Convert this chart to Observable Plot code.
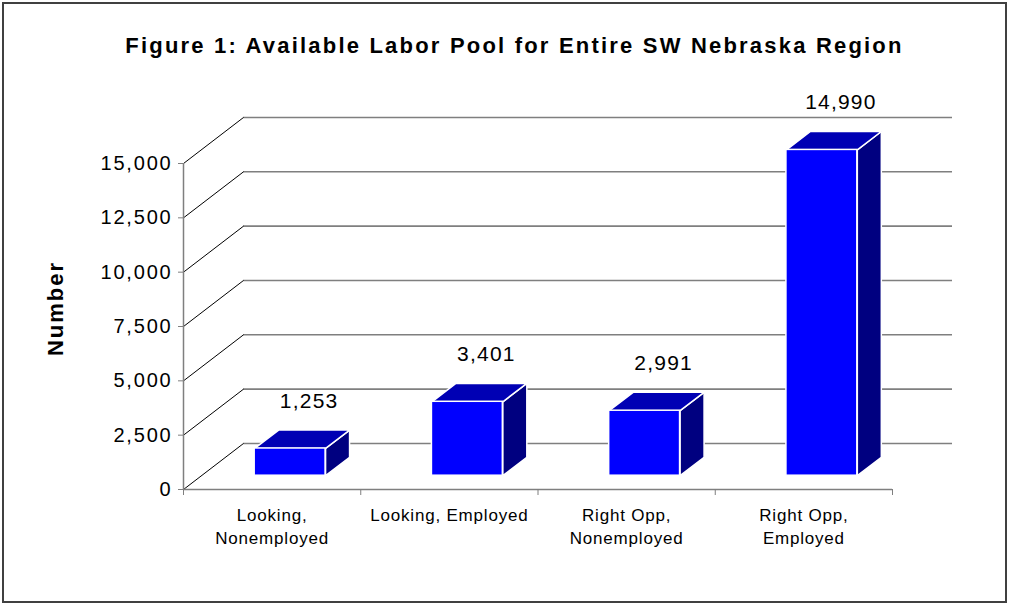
<!DOCTYPE html>
<html>
<head>
<meta charset="utf-8">
<script src="https://cdn.jsdelivr.net/npm/d3@7"></script>
<script src="https://cdn.jsdelivr.net/npm/@observablehq/plot@0.6"></script>
<style>
  body { margin: 0; background: #fff; }
  #wrap { position: relative; width: 1010px; height: 605px; overflow: hidden; }
  #border { position: absolute; left: 2px; top: 2px; width: 1005px; height: 601px; border: 2px solid #404040; box-sizing: border-box; pointer-events: none; }
  svg { font-family: "Liberation Sans", Arial, sans-serif; }
</style>
</head>
<body>
<div id="wrap"><div id="border"></div></div>
<script>
// ---- data ----
const title = "Figure 1: Available Labor Pool for Entire SW Nebraska Region";
const yLabel = "Number";
const categories = ["Looking,\nNonemployed", "Looking, Employed", "Right Opp,\nNonemployed", "Right Opp,\nEmployed"];
const values = [1253, 3401, 2991, 14990];
const yTicks = [0, 2500, 5000, 7500, 10000, 12500, 15000];

// ---- 3D projection parameters (in scale units) ----
const depthX = 0.3385;   // depth of the floor in band units
const depthY = 2117;     // depth of the floor in value units
const d0 = 0.3, d1 = 0.7; // bar front / back depth fraction
const barW = 0.4;        // bar width in band units

const fmt = d3.format(",");
const bars = values.map((v, i) => ({i, v, cat: categories[i]}));

function pt(x, y) { return {x, y}; }
const sides = [], tops = [];
bars.forEach(b => {
  const x1 = b.i + 0.5 - barW / 2 + d0 * depthX;
  const x2 = x1 + barW;
  const ox = (d1 - d0) * depthX, oy = (d1 - d0) * depthY;
  const yb = d0 * depthY, yt = b.v + d0 * depthY;
  [pt(x2, yb), pt(x2, yt), pt(x2 + ox, yt + oy), pt(x2 + ox, yb + oy), pt(x2, yb)]
    .forEach(p => sides.push({...p, id: b.i}));
  [pt(x1, yt), pt(x2, yt), pt(x2 + ox, yt + oy), pt(x1 + ox, yt + oy), pt(x1, yt)]
    .forEach(p => tops.push({...p, id: b.i}));
});

const chart = Plot.plot({
  width: 1010,
  height: 605,
  marginLeft: 183,
  marginRight: 118,
  marginTop: 163,
  marginBottom: 116,
  x: {domain: [0, 4], axis: null},
  y: {domain: [0, 15000], axis: null},
  style: {background: "transparent", color: "black"},
  marks: [
    // back wall gridlines
    Plot.ruleY(yTicks, {y: d => d + depthY, x1: depthX, x2: 4 + depthX, stroke: "#7f7f7f", strokeWidth: 1.6}),
    // side wall diagonals
    Plot.link(yTicks, {x1: 0, y1: d => d, x2: depthX, y2: d => d + depthY, stroke: "black", strokeWidth: 1}),
    // axes lines
    Plot.ruleX([0], {y1: 0, y2: 15000, stroke: "#7f7f7f", strokeWidth: 1.5}),
    Plot.ruleY([0], {x1: 0, x2: 4, stroke: "#7f7f7f", strokeWidth: 1.5}),
    Plot.axisY({ticks: yTicks, tickFormat: fmt, tickSize: 5, tickPadding: 6, fontSize: 20, stroke: "#7f7f7f", fill: "black", label: null}),
    Plot.axisX({ticks: [0, 1, 2, 3, 4], tickFormat: () => "", tickSize: 6, stroke: "#7f7f7f", label: null}),
    // bars
    Plot.line(sides, {x: "x", y: "y", z: "id", fill: "#000080", stroke: "white", strokeWidth: 1.5, strokeLinejoin: "miter"}),
    Plot.line(tops, {x: "x", y: "y", z: "id", fill: "#0000b4", stroke: "white", strokeWidth: 1.5, strokeLinejoin: "miter"}),
    Plot.rect(bars, {
      x1: d => d.i + 0.5 - barW / 2 + d0 * depthX,
      x2: d => d.i + 0.5 + barW / 2 + d0 * depthX,
      y1: d0 * depthY,
      y2: d => d.v + d0 * depthY,
      fill: "#0000ff", stroke: "white", strokeWidth: 1.5
    }),
    // value labels
    Plot.text(bars, {
      x: d => d.i + 0.5, y: "v", dx: 37, dy: -61,
      text: d => fmt(d.v),
      fontSize: 21, fill: "black", stroke: "white", strokeWidth: 7, paintOrder: "stroke"
    }),
    // category labels
    Plot.text(bars, {
      x: d => d.i + 0.5, frameAnchor: "bottom", dy: 15, lineAnchor: "top", textAnchor: "middle",
      text: "cat", fontSize: 17, lineHeight: 1.35, fill: "black"
    }),
    // title
    Plot.text([title], {
      frameAnchor: "top", dx: -23.5, dy: -118, text: d => d, lineAnchor: "middle", textAnchor: "middle",
      fontSize: 22, fontWeight: "bold", fill: "black"
    }),
    // y label
    Plot.text([yLabel], {
      frameAnchor: "left", dx: -128, dy: -18, rotate: -90, text: d => d, lineAnchor: "middle", textAnchor: "middle",
      fontSize: 22, fontWeight: "bold", fill: "black"
    })
  ]
});

// letter spacing to mimic the original rendering
const spacing = new Map();
spacing.set(title, "2.2px");
spacing.set(yLabel, "2px");
yTicks.forEach(t => spacing.set(fmt(t), "1.8px"));
values.forEach(v => spacing.set(fmt(v), "1.2px"));
categories.forEach(c => spacing.set(c.replace("\n", ""), "0.8px"));
d3.select(chart).selectAll("text").each(function () {
  const s = spacing.get(this.textContent);
  if (s) this.style.letterSpacing = s;
});

document.getElementById("wrap").prepend(chart);
</script>
</body>
</html>
